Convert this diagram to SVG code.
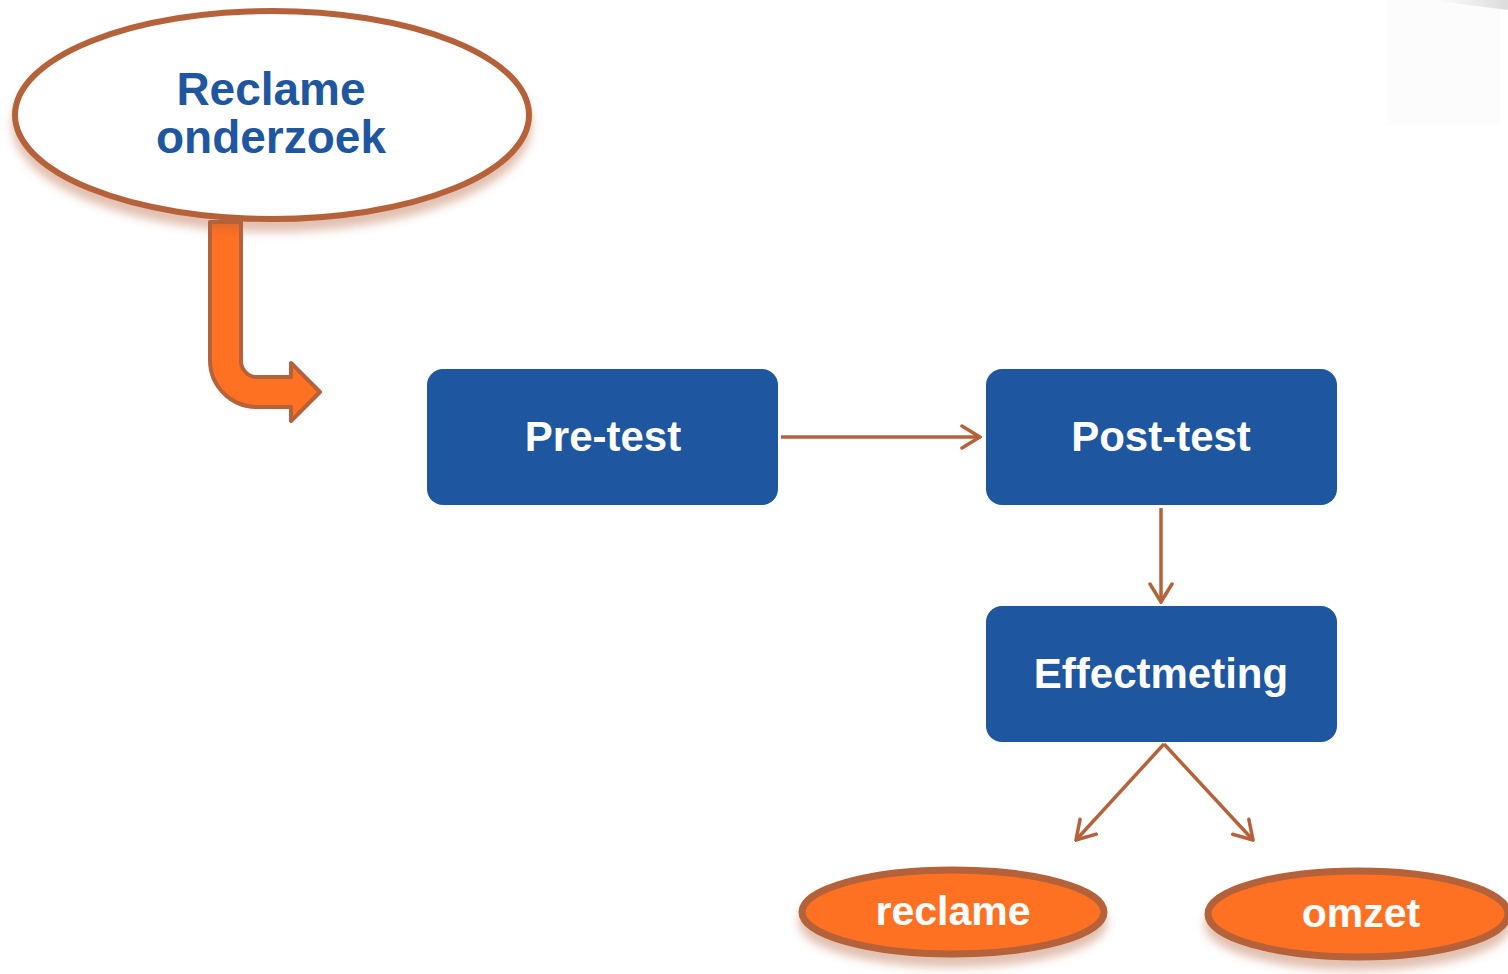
<svg xmlns="http://www.w3.org/2000/svg" width="1508" height="974" viewBox="0 0 1508 974">
<style>
.box{fill:#1f56a0;}
.btxt{font-family:"Liberation Sans",Arial,sans-serif;font-weight:bold;font-size:42px;fill:#ffffff;text-anchor:middle;}
.otxt{font-family:"Liberation Sans",Arial,sans-serif;font-weight:bold;font-size:41px;fill:#ffffff;text-anchor:middle;}
.ttxt{font-family:"Liberation Sans",Arial,sans-serif;font-weight:bold;font-size:46px;fill:#1f56a0;text-anchor:middle;}
.conn{stroke:#b5623a;stroke-width:3.5;fill:none;marker-end:url(#chev);}
.oval{fill:#ff7122;stroke:#b5623a;stroke-width:7;filter:url(#sh);}
</style>
<defs>
<filter id="sh" x="-10%" y="-20%" width="120%" height="150%">
<feDropShadow dx="0" dy="10" stdDeviation="5" flood-color="#b5623a" flood-opacity="0.4"/>
</filter>
<linearGradient id="corner" x1="0" y1="0" x2="1" y2="0">
<stop offset="0" stop-color="#ffffff"/>
<stop offset="1" stop-color="#dcdcdc"/>
</linearGradient>
<marker id="chev" viewBox="0 0 22 26" refX="20" refY="13" markerWidth="22" markerHeight="26" markerUnits="userSpaceOnUse" orient="auto">
<path d="M2,2 L20,13 L2,24" fill="none" stroke="#b5623a" stroke-width="3.5" stroke-linecap="round" stroke-linejoin="miter"/>
</marker>
</defs>
<rect x="0" y="0" width="1508" height="974" fill="#ffffff"/>
<rect x="1386" y="0" width="114" height="125" fill="#fcfcfc"/>
<path d="M1430,0 L1508,0 L1508,10 Z" fill="url(#corner)"/>

<g id="connectors">
<path id="bent-arrow" d="M210,222 L241,222 L241,361 A16,16 0 0 0 257,377 L291,377 L291,363 L320,392 L291,421 L291,407 L257,407 A47,47 0 0 1 210,360 Z" fill="#ff7122" stroke="#b5623a" stroke-width="4" stroke-linejoin="round"/>
<line class="conn" x1="781" y1="437" x2="980" y2="437"/>
<line class="conn" x1="1161" y1="508" x2="1161" y2="602"/>
<line class="conn" x1="1164" y1="744" x2="1076" y2="840"/>
<line class="conn" x1="1164" y1="744" x2="1253" y2="840"/>
</g>

<g id="reclame-onderzoek">
<ellipse cx="272" cy="115" rx="257" ry="104" fill="#ffffff" stroke="#b5623a" stroke-width="6" filter="url(#sh)"/>
<text class="ttxt" x="271" y="105">Reclame</text>
<text class="ttxt" x="271" y="153">onderzoek</text>
</g>

<g id="pre-test">
<rect class="box" x="427" y="369" width="351" height="136" rx="16"/>
<text class="btxt" x="603" y="451">Pre-test</text>
</g>

<g id="post-test">
<rect class="box" x="986" y="369" width="351" height="136" rx="16"/>
<text class="btxt" x="1161" y="451">Post-test</text>
</g>

<g id="effectmeting">
<rect class="box" x="986" y="606" width="351" height="136" rx="16"/>
<text class="btxt" x="1161" y="688">Effectmeting</text>
</g>

<g id="reclame">
<ellipse class="oval" cx="953" cy="912" rx="151" ry="42"/>
<text class="otxt" x="953" y="925">reclame</text>
</g>

<g id="omzet">
<ellipse class="oval" cx="1358" cy="914" rx="150" ry="43"/>
<text class="otxt" x="1361" y="927">omzet</text>
</g>
</svg>
